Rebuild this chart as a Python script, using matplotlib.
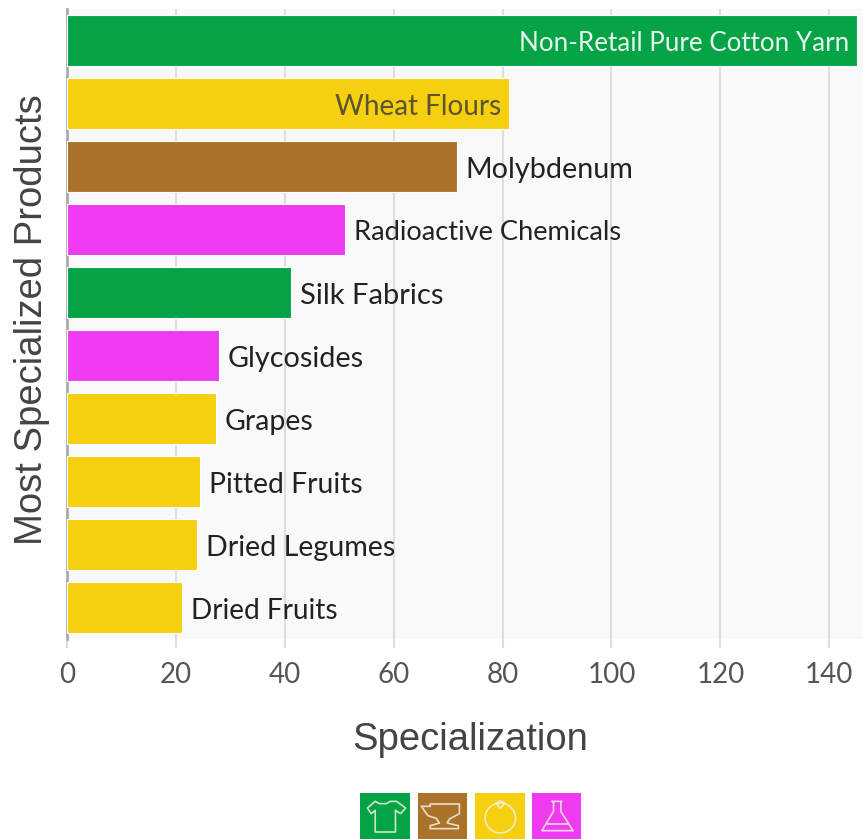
"""Most specialized products, horizontal bars coloured by product sector."""

from __future__ import annotations

import matplotlib

matplotlib.use("Agg")
import matplotlib.pyplot as plt
from matplotlib.patches import Circle, Polygon

products = [
    "Non-Retail Pure Cotton Yarn",
    "Wheat Flours",
    "Molybdenum",
    "Radioactive Chemicals",
    "Silk Fabrics",
    "Glycosides",
    "Grapes",
    "Pitted Fruits",
    "Dried Legumes",
    "Dried Fruits",
]
specialization = [145.1, 81.2, 71.6, 51.1, 41.2, 27.9, 27.4, 24.4, 23.9, 21.1]
sectors = [
    "textiles", "vegetable", "metals", "chemicals", "textiles",
    "chemicals", "vegetable", "vegetable", "vegetable", "vegetable",
]
sector_colors = {
    "textiles": "#03A346",
    "metals": "#AB7329",
    "vegetable": "#F5CF10",
    "chemicals": "#EF3BF0",
}
x_ticks = [0, 20, 40, 60, 80, 100, 120, 140]

# labels of these bars sit inside the bar
inside_colors = {"Non-Retail Pure Cotton Yarn": "#E6F5EC", "Wheat Flours": "#5A5530"}
label_sizes = [18.7, 20.1, 20.7, 19.6, 21.0, 20.7, 20.5, 20.3, 20.6, 20.2]

WIDTH, HEIGHT = 863, 839
LABEL_FONT = "Lato"
TITLE_FONT = "Liberation Sans"
ICON_LINE = "#F4F0E4"


def px_axes(fig, left, top, right, bottom):
    """Axes placed by pixel edges, measured from the top left of the figure."""
    return fig.add_axes([
        left / WIDTH,
        1 - bottom / HEIGHT,
        (right - left) / WIDTH,
        (bottom - top) / HEIGHT,
    ])


def icon_outline(ax, points, closed=True):
    ax.add_patch(Polygon(points, closed=closed, fill=False, edgecolor=ICON_LINE,
                         linewidth=1.2, alpha=0.85, joinstyle="round"))


def draw_shirt(ax):
    icon_outline(ax, [
        (45, 25), (58, 32), (77, 32), (90, 25), (108, 25), (135, 45), (120, 62),
        (105, 52), (105, 117), (45, 117), (45, 52), (33, 62), (22, 45),
    ])


def draw_anvil(ax):
    icon_outline(ax, [
        (37, 33), (125, 33), (125, 62), (95, 78), (88, 90), (122, 98), (122, 107),
        (37, 107), (37, 98), (65, 90), (55, 76), (30, 68), (10, 40), (37, 40),
    ])


def draw_orange(ax):
    ax.add_patch(Circle((75, 75), 45, fill=False, edgecolor=ICON_LINE,
                        linewidth=1.2, alpha=0.85))
    icon_outline(ax, [(62, 30), (75, 24), (88, 30), (75, 46)])


def draw_flask(ax):
    icon_outline(ax, [
        (60, 25), (90, 25), (87, 28), (87, 55), (124, 113), (30, 113), (65, 55), (65, 28),
    ])
    icon_outline(ax, [(44, 92), (110, 92)], closed=False)


def draw_legend(fig):
    entries = [
        ("textiles", 360, 410, draw_shirt),
        ("metals", 418, 467, draw_anvil),
        ("vegetable", 475, 525, draw_orange),
        ("chemicals", 532, 581, draw_flask),
    ]
    for sector, left, right, draw in entries:
        ax = px_axes(fig, left, 793, right, 839)
        ax.set_xlim(0, 148)
        ax.set_ylim(138, 0)
        ax.set_facecolor(sector_colors[sector])
        ax.set_xticks([])
        ax.set_yticks([])
        for spine in ax.spines.values():
            spine.set_visible(False)
        draw(ax)


def main() -> None:
    fig = plt.figure(figsize=(WIDTH / 100, HEIGHT / 100), dpi=100)
    ax = px_axes(fig, 67, 9, 863, 639)
    ax.set_facecolor("#F9F9F9")

    positions = list(range(len(products)))
    colors = [sector_colors[s] for s in sectors]
    ax.barh(positions, specialization, height=0.825, color=colors,
            edgecolor="#FFFFFF", linewidth=0.8, zorder=3)

    ax.set_xlim(0, 146.2)
    ax.set_ylim(len(products) - 0.5, -0.5)

    # labels go inside long bars and just past the end of the others
    for pos, name, value, size in zip(positions, products, specialization, label_sizes):
        if name in inside_colors:
            ax.annotate(name, (value, pos), xytext=(-5.5, -2.2), textcoords="offset points",
                        ha="right", va="center", fontsize=size, family=LABEL_FONT,
                        color=inside_colors[name], zorder=4)
        else:
            ax.annotate(name, (value, pos), xytext=(6.3, -2.2), textcoords="offset points",
                        ha="left", va="center", fontsize=size, family=LABEL_FONT,
                        color="#222222", zorder=4)

    ax.set_xticks(x_ticks)
    ax.set_xticklabels([str(t) for t in x_ticks], family=LABEL_FONT, fontsize=20, color="#555555")
    ax.tick_params(axis="x", length=6.5, width=1.5, color="#DDDDDD", pad=10)
    ax.get_xticklines()[0].set_color("#AAAAAA")
    ax.grid(axis="x", color="#DDDDDD", linewidth=1.5, zorder=1)
    ax.set_axisbelow(True)

    ax.set_yticks([])
    for side in ("top", "right", "bottom"):
        ax.spines[side].set_visible(False)
    ax.spines["left"].set_color("#AAAAAA")
    ax.spines["left"].set_linewidth(2)
    ax.spines["left"].set_zorder(2)

    fig.text(470 / WIDTH, 1 - 740 / HEIGHT, "Specialization", ha="center", va="center",
             family=TITLE_FONT, fontsize=27.5, color="#444444")
    fig.text(32 / WIDTH, 1 - 320 / HEIGHT, "Most Specialized Products", ha="center", va="center",
             rotation=90, family=TITLE_FONT, fontsize=27.5, color="#444444")

    draw_legend(fig)
    fig.savefig("out.png", dpi=100)
    plt.close(fig)


if __name__ == "__main__":
    main()
